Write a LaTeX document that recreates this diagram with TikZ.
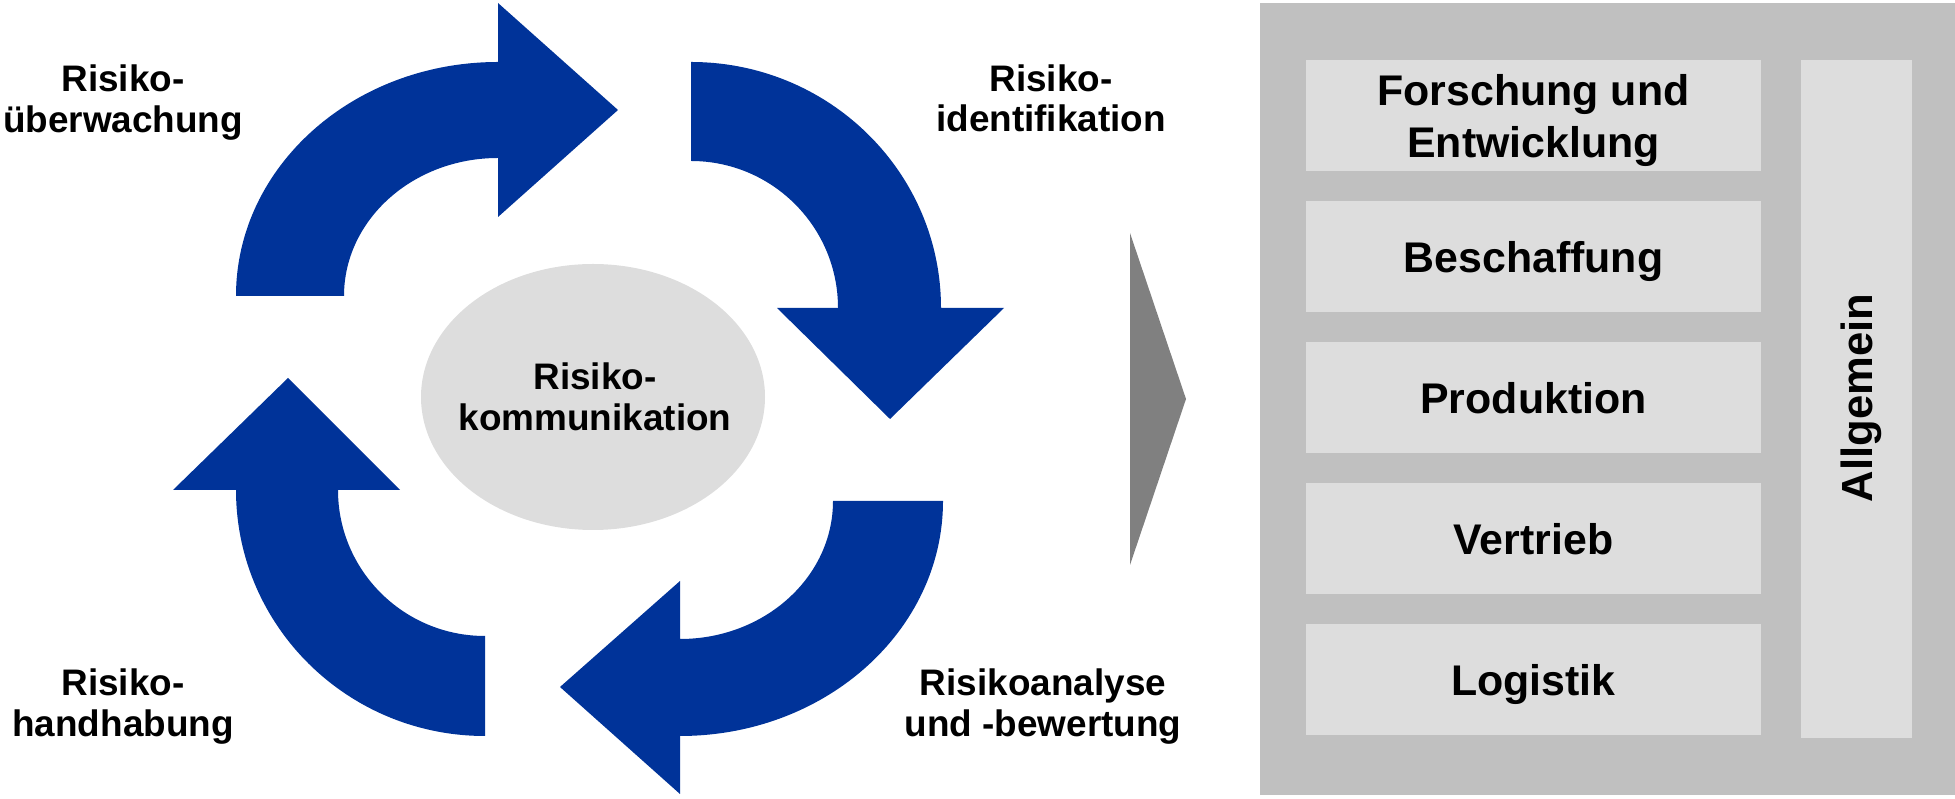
\documentclass[tikz,border=0pt]{standalone}
\usepackage{fontspec}
\setmainfont{Liberation Sans}
\definecolor{rkblue}{HTML}{003399}
\definecolor{boxgray}{HTML}{DDDDDD}
\definecolor{panelgray}{HTML}{C0C0C0}
\definecolor{trigray}{HTML}{808080}
\tikzset{
  bluearrow/.style={fill=rkblue, draw=none},
  lbl/.style={font=\fontsize{10.5}{12}\selectfont\bfseries, inner sep=0pt, anchor=base},
  boxtxt/.style={font=\fontsize{12.2}{14}\selectfont\bfseries, inner sep=0pt, anchor=base},
  lightbox/.style={fill=boxgray, draw=none},
}
\begin{document}
\begin{tikzpicture}[x=0.1mm,y=0.1mm]
\useasboundingbox (0,0) rectangle (1955,799);
% circular arrows
\fill[bluearrow] (236,503) arc[start angle=180,end angle=90,x radius=26.2mm,y radius=23.4mm]
  -- (498,796) -- (618,689) -- (498,582) -- (498,641)
  arc[start angle=90,end angle=180,x radius=15.4mm,y radius=13.8mm] -- cycle;
\fill[bluearrow] (691,737) arc[start angle=90,end angle=0,x radius=25mm,y radius=24.6mm]
  -- (1004,491) -- (890,380) -- (777,491) -- (838,491)
  arc[start angle=0,end angle=90,x radius=14.7mm,y radius=14.7mm] -- cycle;
\fill[bluearrow] (943,298) arc[start angle=0,end angle=-90,x radius=26.3mm,y radius=23.5mm]
  -- (680,5) -- (560,112) -- (680,218) -- (680,160)
  arc[start angle=-90,end angle=0,x radius=15.3mm,y radius=13.8mm] -- cycle;
\fill[bluearrow] (485,63) arc[start angle=-90,end angle=-180,x radius=24.9mm,y radius=24.6mm]
  -- (173,309) -- (288,421) -- (400,309) -- (338,309)
  arc[start angle=180,end angle=270,x radius=14.7mm,y radius=14.6mm] -- cycle;
% centre ellipse
\fill[boxgray] (593,402) ellipse [x radius=17.2mm, y radius=13.3mm];
% labels
\node[lbl] (ue1) at (123,707) {Risiko-};
\node[lbl] (ue2) at (123,666) {überwachung};
\node[lbl] (id1) at (1051,707) {Risiko-};
\node[lbl] (id2) at (1051,667) {identifikation};
\node[lbl] (ko1) at (595,409) {Risiko-};
\node[lbl] (ko2) at (595,368) {kommunikation};
\node[lbl] (hh1) at (123,103) {Risiko-};
\node[lbl] (hh2) at (123,62) {handhabung};
\node[lbl] (an1) at (1043,103) {Risikoanalyse};
\node[lbl] (an2) at (1043,62) {und -bewertung};
% grey triangle
\fill[trigray] (1130,566) -- (1186,400) -- (1130,234) -- cycle;
% right panel
\fill[panelgray] (1260,4) rectangle (1955,796);
\fill[lightbox] (1306,628) rectangle (1761,739);
\fill[lightbox] (1306,487) rectangle (1761,598);
\fill[lightbox] (1306,346) rectangle (1761,457);
\fill[lightbox] (1306,205) rectangle (1761,316);
\fill[lightbox] (1306,64) rectangle (1761,175);
\fill[lightbox] (1801,61) rectangle (1912,739);
\node[boxtxt] (fe1) at (1533.5,693) {Forschung und};
\node[boxtxt] (fe2) at (1533.5,641) {Entwicklung};
\node[boxtxt] (bes) at (1533.5,526) {Beschaffung};
\node[boxtxt] (pro) at (1533.5,385) {Produktion};
\node[boxtxt] (ver) at (1533.5,244) {Vertrieb};
\node[boxtxt] (log) at (1533.5,103) {Logistik};
\node[boxtxt, font=\fontsize{12.4}{14}\selectfont\bfseries, rotate=90] (all) at (1872,401) {Allgemein};
\end{tikzpicture}
\end{document}
